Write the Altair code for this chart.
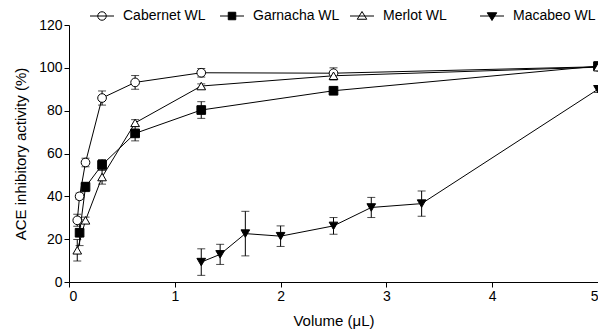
import altair as alt
import pandas as pd

series_names = ["Cabernet WL", "Garnacha WL", "Merlot WL", "Macabeo WL"]

cab_x = [0.078, 0.1, 0.156, 0.3125, 0.625, 1.25, 2.5, 5]
cab_y = [28.8, 40.0, 55.8, 85.9, 93.2, 97.7, 97.5, 100.5]
cab_e = [2.8, 1.5, 2.0, 3.3, 3.2, 2.0, 2.5, 1.5]

gar_x = [0.1, 0.156, 0.3125, 0.625, 1.25, 2.5, 5]
gar_y = [23.0, 44.4, 54.7, 69.4, 80.3, 89.3, 100.8]
gar_e = [6.0, 2.2, 2.5, 3.5, 3.9, 1.0, 2.0]

mer_x = [0.078, 0.156, 0.3125, 0.625, 1.25, 2.5, 5]
mer_y = [14.8, 28.8, 49.0, 74.3, 91.5, 96.3, 100.3]
mer_e = [5.0, 1.5, 3.3, 1.5, 1.0, 2.0, 1.5]

mac_x = [1.25, 1.4286, 1.6667, 2.0, 2.5, 2.857, 3.333, 5]
mac_y = [9.3, 12.9, 22.6, 21.4, 26.2, 34.8, 36.6, 90.0]
mac_e = [6.2, 4.7, 10.4, 4.8, 3.9, 4.7, 5.9, 1.5]

x_ticks = [0, 1, 2, 3, 4, 5]
y_ticks = [0, 20, 40, 60, 80, 100, 120]

rows = []
for name, xs, ys, es in zip(series_names,
                            [cab_x, gar_x, mer_x, mac_x],
                            [cab_y, gar_y, mer_y, mac_y],
                            [cab_e, gar_e, mer_e, mac_e]):
    for xv, yv, ev in zip(xs, ys, es):
        rows.append({"series": name, "x": xv, "y": yv, "lo": yv - ev, "hi": yv + ev})
df = pd.DataFrame(rows)

FONT = "Liberation Sans"

xs = alt.Scale(domain=[0, 5], nice=False, zero=False)
ys = alt.Scale(domain=[0, 120], nice=False)

X = alt.X("x:Q", scale=xs, axis=alt.Axis(values=x_ticks, format="d", title="Volume (\u03bcL)", titlePadding=10))
Y = alt.Y("y:Q", scale=ys, axis=alt.Axis(values=y_ticks, title="ACE inhibitory activity (%)", titlePadding=10))

base = alt.Chart(df)

lines = base.mark_line(color="black", strokeWidth=1).encode(x=X, y=Y, detail="series:N")
rules = base.mark_rule(color="black", strokeWidth=1).encode(x=X, y=alt.Y("lo:Q", scale=ys), y2="hi:Q")
caps_lo = base.mark_tick(orient="horizontal", size=8, thickness=1, color="black").encode(x=X, y=alt.Y("lo:Q", scale=ys))
caps_hi = base.mark_tick(orient="horizontal", size=8, thickness=1, color="black").encode(x=X, y=alt.Y("hi:Q", scale=ys))

shape_std = ["circle", "square", "triangle-up", "triangle-down"]
fills = ["white", "black", "white", "black"]

points = base.mark_point(stroke="black", strokeWidth=1, opacity=1, fillOpacity=1, size=75).encode(
    x=X, y=Y,
    shape=alt.Shape("series:N", scale=alt.Scale(domain=series_names, range=shape_std), legend=None),
    fill=alt.Fill("series:N", scale=alt.Scale(domain=series_names, range=fills), legend=None),
)

legend_paths = [
    "M-2.4,0H2.4M0.85,0A0.85,0.85,0,1,1,-0.85,0A0.85,0.85,0,1,1,0.85,0",
    "M-2.4,0H2.4M-0.75,-0.75H0.75V0.75H-0.75Z",
    "M-2.4,0H2.4M0,-0.9L0.95,0.65H-0.95Z",
    "M-2.4,0H2.4M0,0.9L0.95,-0.65H-0.95Z",
]

leg = alt.Legend(orient="none", legendX=26, legendY=-16, direction="horizontal", title=None,
                 labelFont=FONT, labelFontSize=14, labelColor="black", symbolSize=100,
                 labelOffset=14, columnPadding=8, gridAlign="all", symbolStrokeWidth=1, padding=0)

legend_layer = base.transform_filter("false").mark_point(strokeWidth=1, opacity=1).encode(
    x=X, y=Y,
    shape=alt.Shape("series:N", scale=alt.Scale(domain=series_names, range=legend_paths), legend=leg),
    fill=alt.Fill("series:N", scale=alt.Scale(domain=series_names, range=fills), legend=leg),
    stroke=alt.Stroke("series:N", scale=alt.Scale(domain=series_names, range=["black"] * 4), legend=leg),
)

chart = alt.layer(lines, rules, caps_lo, caps_hi, points, legend_layer).resolve_scale(
    shape="independent", fill="independent", stroke="independent"
).properties(
    width=529, height=257,
    autosize=alt.AutoSizeParams(type="none"),
    padding={"left": 61, "top": 17, "right": 0, "bottom": 49},
).configure_view(stroke=None).configure_axis(
    grid=False, domainColor="black", tickColor="black", labelColor="black", titleColor="black",
    labelFont=FONT, titleFont=FONT, labelFontSize=14, titleFontSize=15, titleFontWeight="normal",
    tickSize=5, domainWidth=1, tickWidth=1, labelPadding=2,
)

chart.save("out.html", embed_options={"renderer": "svg", "actions": False})
